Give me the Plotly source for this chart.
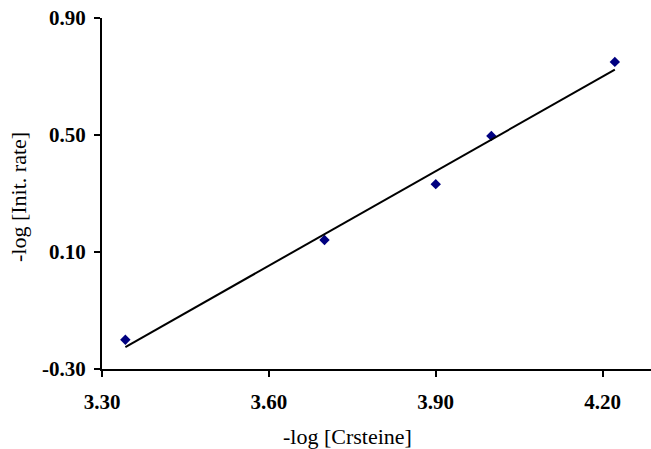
import numpy as np
import plotly.graph_objects as go

# -log [cysteine] vs -log [initial rate]
log_conc = [3.342, 3.700, 3.900, 4.000, 4.222]
log_rate = [-0.200, 0.141, 0.332, 0.497, 0.750]

x_ticks = [3.30, 3.60, 3.90, 4.20]
y_ticks = [-0.30, 0.10, 0.50, 0.90]

# least-squares trend line over the measured span
slope, intercept = np.polyfit(log_conc, log_rate, 1)
fit_x = [min(log_conc), max(log_conc)]
fit_y = [slope * v + intercept for v in fit_x]

fig = go.Figure()
fig.add_trace(go.Scatter(
    x=log_conc, y=log_rate, mode="markers",
    marker=dict(symbol="diamond", size=8, color="#000080"),
    showlegend=False,
))
fig.add_trace(go.Scatter(
    x=fit_x, y=fit_y, mode="lines",
    line=dict(color="black", width=2),
    showlegend=False,
))

tick_font = dict(family="Liberation Serif", size=21, color="black", weight="bold")
title_font = dict(family="Liberation Serif", size=22, color="black")

fig.update_layout(
    width=651, height=449,
    margin=dict(l=102, r=0, t=18, b=80),
    paper_bgcolor="white", plot_bgcolor="white",
    xaxis=dict(
        range=[3.30, 4.287], tickvals=x_ticks,
        ticktext=[f"{v:.2f}" for v in x_ticks],
        showgrid=False, zeroline=False,
        showline=True, linecolor="black", linewidth=2,
        ticks="outside", ticklen=6, tickwidth=2, tickcolor="black",
        tickfont=tick_font, ticklabelstandoff=7,
    ),
    yaxis=dict(
        range=[-0.30, 0.90], tickvals=y_ticks,
        ticktext=[f"{v:.2f}" for v in y_ticks],
        showgrid=False, zeroline=False,
        showline=True, linecolor="black", linewidth=2,
        ticks="outside", ticklen=6, tickwidth=2, tickcolor="black",
        tickfont=tick_font, ticklabelstandoff=4,
    ),
    annotations=[
        dict(text="-log [Crsteine]", xref="paper", yref="paper",
             x=(347 - 102) / 549, y=-68 / 351, xanchor="center", yanchor="middle",
             showarrow=False, font=title_font),
        dict(text="-log [Init. rate]", xref="paper", yref="paper",
             x=-84 / 549, y=0.49, xanchor="center", yanchor="middle",
             textangle=-90, showarrow=False, font=title_font),
    ],
)

fig.write_html("out.html")
